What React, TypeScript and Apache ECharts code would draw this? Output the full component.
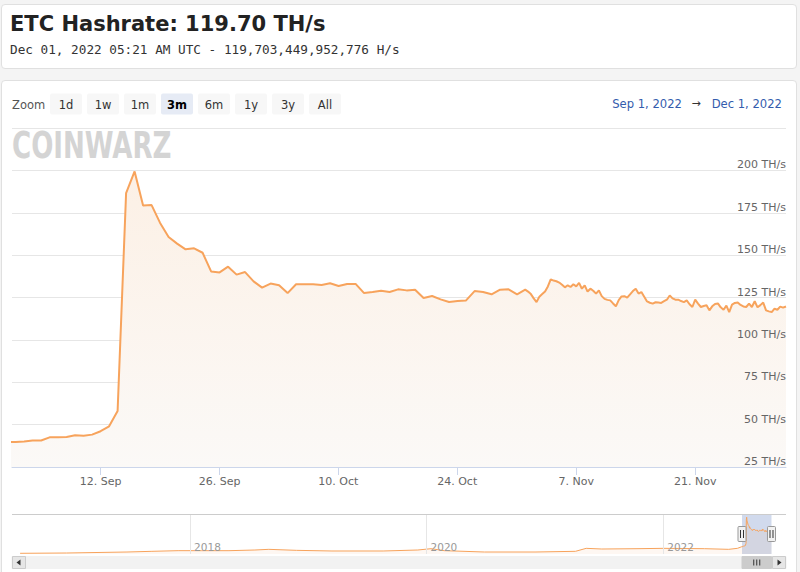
import React, { useEffect, useRef } from 'react';
import * as echarts from 'echarts';

const HOUR = 3600000;
const DAY = 24 * HOUR;

// Header texts
const titleText = 'ETC Hashrate: 119.70 TH/s';
const subtitleText = 'Dec 01, 2022 05:21 AM UTC - 119,703,449,952,776 H/s';

// Daily hashrate (TH/s), Sep 1 .. Oct 31, 2022 (one value per day)
const dailyStart = '2022-09-01T00:00:00+10:00';
const dailyValues = [
  39.6, 39.8, 40.0, 40.6, 40.6, 42.5, 42.5, 42.7, 43.7, 43.5,
  44.1, 46.1, 49.0, 58.0, 186.6, 199.4, 179.3, 179.5, 169.0, 160.7,
  156.8, 153.4, 154.0, 151.4, 140.4, 139.8, 143.2, 138.5, 140.0, 134.5,
  130.8, 133.2, 132.2, 127.6, 132.8, 132.8, 132.8, 132.4, 133.4, 131.8,
  133.0, 133.0, 127.6, 128.2, 129.0, 128.2, 129.8, 129.2, 129.6, 124.7,
  125.9, 123.9, 122.3, 122.9, 123.3, 128.8, 128.2, 126.9, 129.6, 129.8,
  126.9,
];

// 8-hourly hashrate (TH/s), Nov 1 .. Dec 1, 2022
const nov8hStart = '2022-11-01T00:00:00+11:00';
const nov8hValues = [
  129.6,
  128.5, 127.0, 124.5, 122.3, 125.5, 127.0, 128.5, 131.5, 135.7,
  135.0, 134.6, 133.8, 132.5, 131.0, 132.2, 131.2, 132.8, 131.6,
  133.6, 130.2, 132.2, 128.5, 130.2, 129.0, 127.3, 129.2, 125.8,
  124.2, 123.6, 123.3, 121.5, 119.8, 123.5, 125.6, 125.8, 124.9,
  126.8, 128.8, 130.2, 127.3, 128.2, 125.5, 122.7, 121.9, 121.4,
  122.2, 122.0, 121.8, 122.8, 123.7, 126.2, 124.5, 123.7, 123.7,
  122.9, 122.3, 123.3, 121.0, 119.4, 123.7, 121.4, 119.4, 120.0,
  120.4, 117.4, 119.8, 121.2, 121.5, 119.2, 117.8, 120.2, 116.4,
  120.8, 121.8, 122.1, 120.6, 119.7, 119.4, 121.4, 119.4, 122.8,
  119.2, 120.5, 122.0, 117.4, 116.8, 116.4, 118.4, 117.8, 119.6,
  119.0,
];
const lastTime = '2022-12-01T05:21:00Z';
const lastValue = 119.7;

// Long-term history shown in the navigator (TH/s)
const navHistDates = [
  '2016-07-25', '2016-12-15', '2017-06-20', '2017-09-05', '2017-11-25',
  '2018-02-05', '2018-05-01', '2018-07-20', '2018-09-01', '2018-11-25',
  '2019-03-15', '2019-08-20', '2019-12-05', '2020-01-15', '2020-02-25',
  '2020-06-28', '2020-12-01', '2021-04-05', '2021-05-08', '2021-06-25',
  '2021-10-15', '2022-01-01', '2022-05-08', '2022-07-22', '2022-08-18',
];
const navHistValues = [
  3.8, 5.4, 10.8, 14.5, 18.1,
  18.0, 18.0, 21.7, 25.3, 19.9,
  16.3, 16.3, 21.7, 28.9, 18.0,
  10.8, 10.8, 14.5, 30.7, 27.1,
  28.9, 30.7, 28.9, 25.3, 30.7,
];

// Axes
const viewMin = '2022-09-01T03:50:00Z';
const viewMax = lastTime;
const yMin = 25;
const yMax = 225;
const yStep = 25;
const yUnit = 'TH/s';
const xTickValues = [
  '2022-09-12T00:00:00+10:00', '2022-09-26T00:00:00+10:00', '2022-10-10T00:00:00+11:00',
  '2022-10-24T00:00:00+11:00', '2022-11-07T00:00:00+11:00', '2022-11-21T00:00:00+11:00',
];
const xTickLabels = ['12. Sep', '26. Sep', '10. Oct', '24. Oct', '7. Nov', '21. Nov'];

const navMin = '2016-06-30';
const navMax = '2023-01-15';
const navYearTicks = ['2018-01-01', '2020-01-01', '2022-01-01'];
const navYearLabels = ['2018', '2020', '2022'];
const navYMax = 217;

// Range selector
const zoomButtons = ['1d', '1w', '1m', '3m', '6m', '1y', '3y', 'All'];
const selectedButton = '3m';
const rangeFrom = 'Sep 1, 2022';
const rangeTo = 'Dec 1, 2022';

const FONT = '"DejaVu Sans", sans-serif';
const ORANGE = '#f7a35c';

export default function App() {
  const ref = useRef<HTMLDivElement>(null);

  useEffect(() => {
    if (!ref.current) return;
    const chart = echarts.init(ref.current, null, { renderer: 'svg' });

    const t0 = Date.parse(dailyStart);
    const daily = dailyValues.map((v, i) => [t0 + i * DAY, v]);
    const n0 = Date.parse(nov8hStart);
    const nov = nov8hValues.map((v, i) => [n0 + i * 8 * HOUR, v]);
    const mainData = [...daily, ...nov, [Date.parse(lastTime), lastValue]];
    const navData = [...navHistDates.map((d, i) => [Date.parse(d), navHistValues[i]]), ...mainData];

    const tsMin = Date.parse(viewMin);
    const tsMax = Date.parse(viewMax);
    const xTicks = xTickValues.map((s) => Date.parse(s));
    const labelFor = (v: number) => {
      let best = -1;
      let bd = Infinity;
      xTicks.forEach((t, i) => {
        const d = Math.abs(t - v);
        if (d < bd) { bd = d; best = i; }
      });
      return bd < HOUR ? xTickLabels[best] : '';
    };
    const navTicks = navYearTicks.map((s) => Date.parse(s));
    const navLabelFor = (v: number) => {
      let best = -1;
      let bd = Infinity;
      navTicks.forEach((t, i) => {
        const d = Math.abs(t - v);
        if (d < bd) { bd = d; best = i; }
      });
      return bd < DAY ? navYearLabels[best] : '';
    };

    chart.setOption({
      animation: false,
      textStyle: { fontFamily: FONT },
      grid: [
        { left: 12, top: 128, width: 774, height: 339 },
        { left: 12, top: 514, width: 774, height: 40 },
      ],
      xAxis: [
        {
          gridIndex: 0,
          type: 'value',
          min: tsMin,
          max: tsMax,
          z: 6,
          axisLine: { show: true, lineStyle: { color: '#ccd6eb', width: 1 } },
          axisTick: { show: true, customValues: xTicks, length: 8, lineStyle: { color: '#ccd6eb' } },
          axisLabel: {
            customValues: xTicks,
            formatter: (v: number) => labelFor(v),
            color: '#666',
            fontSize: 11,
            fontFamily: FONT,
            margin: 9,
          },
          splitLine: { show: false },
        },
        {
          gridIndex: 1,
          type: 'value',
          min: Date.parse(navMin),
          max: Date.parse(navMax),
          z: 6,
          axisLine: { show: false },
          axisTick: { show: false },
          splitLine: { show: false },
          axisLabel: {
            inside: true,
            customValues: navTicks,
            formatter: (v: number) => navLabelFor(v),
            color: '#999',
            fontSize: 10.5,
            fontFamily: FONT,
            align: 'left',
            verticalAlign: 'bottom',
            margin: 2,
            padding: [0, 0, 0, 4],
          },
        },
      ],
      yAxis: [
        {
          // labels, drawn above the area
          gridIndex: 0,
          type: 'value',
          position: 'right',
          min: yMin,
          max: yMax,
          interval: yStep,
          z: 6,
          axisLine: { show: false },
          axisTick: { show: false },
          splitLine: { show: false },
          axisLabel: {
            inside: true,
            margin: 0,
            verticalAlign: 'bottom',
            color: '#666',
            fontSize: 11,
            fontFamily: FONT,
            formatter: (v: number) => (v >= yMax ? '' : `${v} ${yUnit}`),
          },
        },
        { gridIndex: 1, type: 'value', min: 0, max: navYMax, show: false },
        {
          // grid lines, drawn below the area
          gridIndex: 0,
          type: 'value',
          position: 'right',
          min: yMin,
          max: yMax,
          interval: yStep,
          z: 0,
          axisLine: { show: false },
          axisTick: { show: false },
          axisLabel: { show: false },
          splitLine: { show: true, lineStyle: { color: '#e6e6e6', width: 1 } },
        },
      ],
      series: [
        {
          type: 'line',
          xAxisIndex: 0,
          yAxisIndex: 0,
          data: mainData,
          showSymbol: false,
          symbol: 'none',
          clip: true,
          z: 3,
          lineStyle: { color: ORANGE, width: 2 },
          itemStyle: { color: ORANGE },
          areaStyle: {
            opacity: 1,
            color: new echarts.graphic.LinearGradient(0, 0, 0, 1, [
              { offset: 0, color: 'rgb(252,240,229)' },
              { offset: 1, color: 'rgb(251,249,247)' },
            ]),
          },
          silent: true,
        },
        {
          type: 'line',
          xAxisIndex: 1,
          yAxisIndex: 1,
          data: navData,
          showSymbol: false,
          symbol: 'none',
          lineStyle: { color: ORANGE, width: 1 },
          itemStyle: { color: ORANGE },
          areaStyle: { color: 'rgba(247,163,92,0.12)' },
          silent: true,
          markLine: {
            silent: true,
            symbol: ['none', 'none'],
            label: { show: false },
            lineStyle: { color: '#e6e6e6', type: 'solid', width: 1 },
            data: navTicks.map((t) => ({ xAxis: t })),
          },
          markArea: {
            silent: true,
            itemStyle: { color: 'rgba(102,133,194,0.3)' },
            data: [[{ xAxis: tsMin }, { xAxis: tsMax }]],
          },
        },
      ],
    });

    const xL = chart.convertToPixel({ xAxisIndex: 1 }, tsMin) as number;
    const xR = chart.convertToPixel({ xAxisIndex: 1 }, tsMax) as number;
    const gridL = 12;
    const gridR = 786;

    const handle = (cx: number) => [
      { type: 'rect', shape: { x: cx - 4, y: 526.5, width: 8, height: 15, r: 1 }, style: { fill: '#f2f2f2', stroke: '#999', lineWidth: 1 }, z: 20 },
      { type: 'line', shape: { x1: cx - 1.5, y1: 530, x2: cx - 1.5, y2: 538 }, style: { stroke: '#333', lineWidth: 1 }, z: 21 },
      { type: 'line', shape: { x1: cx + 1.5, y1: 530, x2: cx + 1.5, y2: 538 }, style: { stroke: '#333', lineWidth: 1 }, z: 21 },
    ];

    const thumbC = (xL + xR) / 2;
    const elements: any[] = [
      { type: 'text', style: { text: titleText, x: 10, y: 24, font: `bold 21px ${FONT}`, fill: '#222', verticalAlign: 'middle' } },
      { type: 'text', style: { text: subtitleText, x: 10, y: 49, font: `12.7px "DejaVu Sans Mono", monospace`, fill: '#333', verticalAlign: 'middle' } },
      { type: 'text', style: { text: 'Zoom', x: 12, y: 104.5, font: `11.5px ${FONT}`, fill: '#555', verticalAlign: 'middle' } },
      ...zoomButtons.flatMap((b, i) => {
        const sel = b === selectedButton;
        const bx = 50 + 37 * i;
        return [
          { type: 'rect', shape: { x: bx, y: 93.5, width: 32, height: 21, r: 2 }, style: { fill: sel ? '#e6ebf5' : '#f7f7f7' } },
          { type: 'text', style: { text: b, x: bx + 16, y: 104.5, font: `${sel ? 'bold ' : ''}11.5px ${FONT}`, fill: sel ? '#000' : '#333', align: 'center', verticalAlign: 'middle' } },
        ];
      }),
      { type: 'text', style: { text: rangeFrom, x: 682, y: 103.5, font: `11.6px ${FONT}`, fill: '#335cad', align: 'right', verticalAlign: 'middle' } },
      { type: 'text', style: { text: '→', x: 696, y: 103.5, font: `11px ${FONT}`, fill: '#333', align: 'center', verticalAlign: 'middle' } },
      { type: 'text', style: { text: rangeTo, x: 782, y: 103.5, font: `11.6px ${FONT}`, fill: '#335cad', align: 'right', verticalAlign: 'middle' } },
      { type: 'text', x: 12, y: 126, scaleY: 1.3, z: -1, style: { text: 'COINWARZ', x: 0, y: 0, font: `bold 29px "DejaVu Sans Condensed", ${FONT}`, fill: '#d4d4d4', verticalAlign: 'top' } },
      { type: 'line', shape: { x1: gridL, y1: 514.5, x2: gridR, y2: 514.5 }, style: { stroke: '#cccccc', lineWidth: 1 }, z: 15 },
      ...handle(xL),
      ...handle(xR),
      { type: 'rect', shape: { x: gridL, y: 556.5, width: gridR - gridL, height: 12 }, style: { fill: '#f2f2f2', stroke: '#f2f2f2' } },
      { type: 'rect', shape: { x: xL, y: 556.5, width: xR - xL, height: 12 }, style: { fill: '#cccccc', stroke: '#cccccc' } },
      ...[-3, 0, 3].map((d) => ({ type: 'line', shape: { x1: thumbC + d, y1: 559.5, x2: thumbC + d, y2: 565.5 }, style: { stroke: '#333', lineWidth: 1 } })),
      { type: 'rect', shape: { x: gridL + 0.5, y: 556.5, width: 13, height: 12 }, style: { fill: '#e6e6e6', stroke: '#cccccc', lineWidth: 1 } },
      { type: 'polygon', shape: { points: [[20.5, 559.5], [20.5, 565.5], [16.5, 562.5]] }, style: { fill: '#333' } },
      { type: 'rect', shape: { x: gridR - 13.5, y: 556.5, width: 13, height: 12 }, style: { fill: '#e6e6e6', stroke: '#cccccc', lineWidth: 1 } },
      { type: 'polygon', shape: { points: [[777.5, 559.5], [777.5, 565.5], [781.5, 562.5]] }, style: { fill: '#333' } },
    ];

    chart.setOption({ graphic: elements });

    return () => chart.dispose();
  }, []);

  return (
    <div style={{ position: 'absolute', left: 0, top: 0, width: 800, height: 572, background: '#f4f4f4', overflow: 'hidden' }}>
      <div style={{ position: 'absolute', left: 1, top: 4, width: 796, height: 65, boxSizing: 'border-box', background: '#fff', border: '1px solid #e0e0e0', borderRadius: 4 }} />
      <div style={{ position: 'absolute', left: 1, top: 80, width: 796, height: 520, boxSizing: 'border-box', background: '#fff', border: '1px solid #e0e0e0', borderRadius: 4 }} />
      <div ref={ref} style={{ position: 'absolute', left: 0, top: 0, width: 800, height: 572 }} />
    </div>
  );
}
